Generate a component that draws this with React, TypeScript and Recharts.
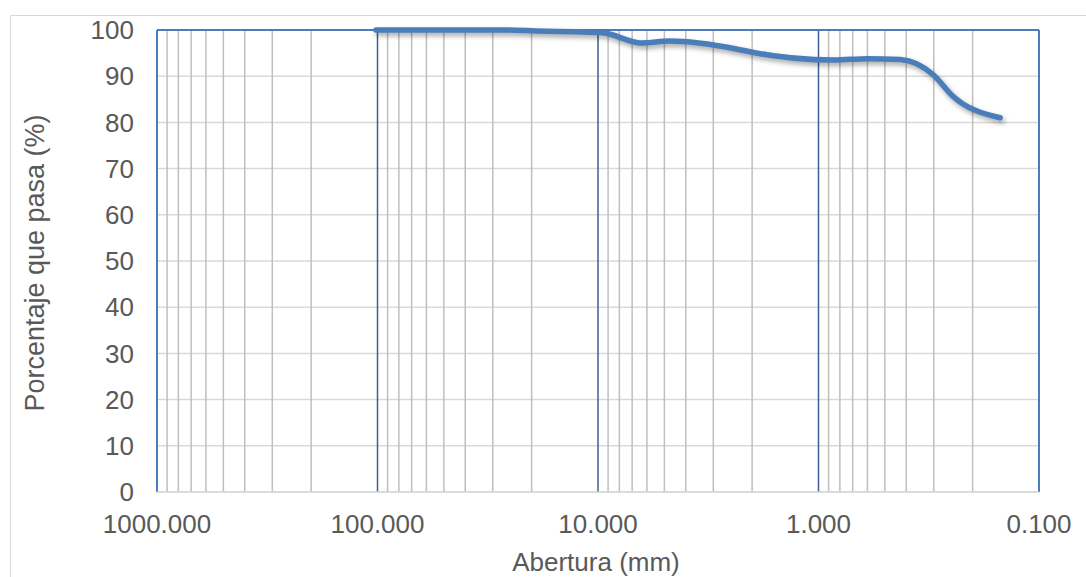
import React from "react";
import {
  LineChart,
  Line,
  XAxis,
  YAxis,
  CartesianGrid,
  ReferenceLine,
} from "recharts";

// sieve openings (mm) and % passing
const aberturaMm = [101.6, 76.2, 50.8, 38.1, 25.4, 19.05, 12.7, 9.525, 6.35, 4.75, 2.36, 2.0, 0.85, 0.6, 0.425, 0.3, 0.25, 0.15];
const pasaPct = [100, 100, 100, 100, 100, 99.8, 99.6, 99.4, 97.2, 97.6, 95.9, 95.2, 93.5, 93.8, 93.6, 90.2, 86.0, 81.0];

const xTicks = [1000, 100, 10, 1, 0.1];
const yTicks = [0, 10, 20, 30, 40, 50, 60, 70, 80, 90, 100];
const minorDecades = [100, 10, 1, 0.1];
const minorSteps = [2, 3, 4, 5, 6, 7, 8, 9];
const innerMajors = [100, 10, 1];

const data = aberturaMm.map((d, i) => ({ abertura: d, pasa: pasaPct[i] }));
const minorLines = minorDecades.flatMap((d) => minorSteps.map((k) => +(d * k).toPrecision(3)));

const TEXT = "#595959";
const FONT = "'Liberation Sans', Arial, sans-serif";
const BORDER_BLUE = "#4a7ebb";
const MAJOR_BLUE = "#3d5f94";

const W = 1086;
const H = 577;

function YTitle(props: any) {
  const vb = props.viewBox || {};
  const cx = (vb.x || 0) + 35;
  const cy = (vb.y || 0) + (vb.height || 0) / 2 + 2;
  return (
    <text
      x={cx}
      y={cy}
      transform={`rotate(-90 ${cx} ${cy})`}
      textAnchor="middle"
      dominantBaseline="central"
      fill={TEXT}
      fontSize={27}
      fontFamily={FONT}
    >
      Porcentaje que pasa (%)
    </text>
  );
}

function XTitle(props: any) {
  const vb = props.viewBox || {};
  const cx = (vb.x || 0) + (vb.width || 0) / 2 - 2;
  return (
    <text x={cx} y={571} textAnchor="middle" fill={TEXT} fontSize={26} fontFamily={FONT}>
      Abertura (mm)
    </text>
  );
}

export default function App() {
  return (
    <div style={{ position: "absolute", left: 0, top: 0, width: W, height: H, overflow: "hidden", background: "#fff" }}>
      <div
        style={{
          position: "absolute",
          left: 10,
          top: 15,
          width: W + 20,
          height: H + 20,
          borderTop: "1.5px solid #d9d9d9",
          borderLeft: "1.5px solid #d9d9d9",
        }}
      />
      <div style={{ position: "absolute", left: 0, top: 0 }}>
        <LineChart width={W} height={H} data={data} margin={{ top: 30, right: 47, left: 0, bottom: 0 }}>
          <CartesianGrid horizontal vertical={false} stroke="#d9d9d9" strokeWidth={1.5} />
          <XAxis
            dataKey="abertura"
            type="number"
            scale="log"
            domain={[0.1, 1000]}
            reversed
            allowDataOverflow
            ticks={xTicks}
            tickFormatter={(v: number) => v.toFixed(3)}
            tick={{ fontSize: 26, fill: TEXT, fontFamily: FONT }}
            tickLine={false}
            tickSize={0}
            tickMargin={23}
            axisLine={{ stroke: "#d9d9d9", strokeWidth: 1.5 }}
            height={85}
            label={{ content: XTitle }}
          />
          <YAxis
            type="number"
            domain={[0, 100]}
            ticks={yTicks}
            width={157}
            tick={{ fontSize: 26, fill: TEXT, fontFamily: FONT }}
            tickLine={false}
            tickSize={0}
            tickMargin={23}
            axisLine={false}
            interval={0}
            label={{ content: YTitle }}
          />
          {minorLines.map((v) => (
            <ReferenceLine key={"m" + v} x={v} stroke="#bfbfbf" strokeWidth={1.5} ifOverflow="hidden" />
          ))}
          {innerMajors.map((v) => (
            <ReferenceLine key={"M" + v} x={v} stroke={MAJOR_BLUE} strokeWidth={1.5} />
          ))}
          <ReferenceLine x={1000} stroke={BORDER_BLUE} strokeWidth={2} />
          <ReferenceLine x={0.1} stroke={BORDER_BLUE} strokeWidth={2} />
          <ReferenceLine y={100} stroke={BORDER_BLUE} strokeWidth={2} />
          <Line
            dataKey="pasa"
            type="monotone"
            stroke={BORDER_BLUE}
            strokeWidth={5.5}
            strokeLinecap="round"
            dot={false}
            activeDot={false}
            isAnimationActive={false}
            style={{ filter: "drop-shadow(2px 3px 2.5px rgba(0,0,0,0.35))" }}
          />
        </LineChart>
      </div>
    </div>
  );
}
